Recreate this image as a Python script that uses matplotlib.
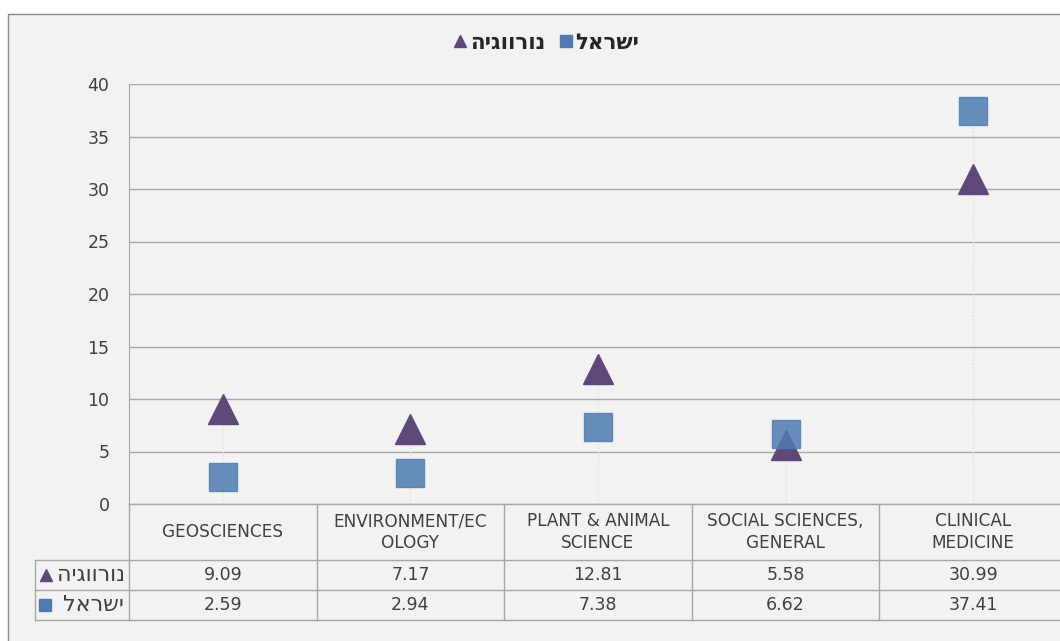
"""
Norway vs Israel by research field, Excel-style marker chart with a data table.
"""
import matplotlib
matplotlib.use("Agg")
import matplotlib.pyplot as plt
from matplotlib.lines import Line2D
from matplotlib.patches import Rectangle
from matplotlib.transforms import blended_transform_factory

# --- DATA --- #
categories = ["GEOSCIENCES", "ENVIRONMENT/EC\nOLOGY", "PLANT & ANIMAL\nSCIENCE",
              "SOCIAL SCIENCES,\nGENERAL", "CLINICAL\nMEDICINE"]
norway = [9.09, 7.17, 12.81, 5.58, 30.99]
israel = [2.59, 2.94, 7.38, 6.62, 37.41]
norway_label = "נורווגיה"
israel_label = "ישראל"
y_ticks = list(range(0, 41, 5))


def rtl(s):
    # matplotlib has no bidi support, so flip Hebrew by hand
    return s[::-1]


plt.rcParams["font.family"] = ["DejaVu Sans"]
HEB = ["DejaVu Sans"]
TXT = "#404040"
GRID = "#a6a6a6"
PURPLE = "#5F497A"
BLUE = "#4F7BB0"
FS = 12.5
HEB_FS = 16

# --- FIGURE AND FRAME --- #
fig = plt.figure(figsize=(10.6, 6.41), dpi=100, facecolor="white")
fig.patches.append(Rectangle((8 / 1060, -0.1), 2, 1 - 14 / 641 + 0.1,
                             transform=fig.transFigure, fc="#F2F2F2",
                             ec="#8c8c8c", lw=1, zorder=-10))

ax = fig.add_axes([129 / 1060, 1 - 504 / 641, 938 / 1060, 420 / 641])
ax.set_facecolor("none")
x = list(range(len(categories)))

# --- FAINT DROP LINES --- #
for xi, a, b in zip(x, norway, israel):
    ax.vlines(xi, 0, max(a, b), colors="#e0e0e0", linestyles=":", lw=1, zorder=1)

# --- MARKERS --- #
ax.plot(x, norway, ls="none", marker="^", ms=22, mfc=PURPLE, mec=PURPLE, zorder=3)
ax.plot(x, israel, ls="none", marker="s", ms=20, mfc=BLUE, mec=BLUE,
        alpha=0.85, zorder=4)

ax.set_xlim(-0.5, len(categories) - 0.5)
ax.set_ylim(0, 40)
ax.set_yticks(y_ticks)
ax.set_xticks([])
ax.tick_params(axis="y", length=0, pad=14, labelsize=FS, labelcolor=TXT)
ax.grid(axis="y", color=GRID, lw=1)
ax.set_axisbelow(True)
for side in ["top", "right", "bottom"]:
    ax.spines[side].set_visible(False)
ax.spines["left"].set_color(GRID)

# --- DATA TABLE UNDER THE AXIS --- #
tr = blended_transform_factory(ax.transData, ax.transAxes)
ph = 420.0  # axes height in px
y_head = -56 / ph
y_r1 = -86 / ph
y_r2 = -116 / ph
x_left = -1.0
x_right = len(categories) - 0.5
line_kw = dict(color=GRID, lw=1, transform=tr, clip_on=False)

ax.plot([-0.5, x_right], [0, 0], **line_kw)
for yy in [y_head, y_r1, y_r2]:
    ax.plot([x_left, x_right], [yy, yy], **line_kw)
ax.plot([x_left, x_left], [y_head, y_r2], **line_kw)
for xb in [i - 0.5 for i in range(len(categories) + 1)]:
    ax.plot([xb, xb], [0, y_r2], **line_kw)

for xi, cat, a, b in zip(x, categories, norway, israel):
    ax.text(xi, y_head / 2, cat, ha="center", va="center", fontsize=FS - 0.3,
            color=TXT, transform=tr, linespacing=1.25)
    ax.text(xi, (y_head + y_r1) / 2, f"{a:.2f}", ha="center", va="center",
            fontsize=FS, color=TXT, transform=tr)
    ax.text(xi, (y_r1 + y_r2) / 2, f"{b:.2f}", ha="center", va="center",
            fontsize=FS, color=TXT, transform=tr)


def px_to_x(px):
    return (px - 129) / 187.6 - 0.5


ax.plot([px_to_x(46)], [(y_head + y_r1) / 2], marker="^", ms=9, color=PURPLE,
        transform=tr, clip_on=False)
ax.plot([px_to_x(45)], [(y_r1 + y_r2) / 2], marker="s", ms=8, color=BLUE,
        transform=tr, clip_on=False)
ax.text(px_to_x(125), (y_head + y_r1) / 2, rtl(norway_label), ha="right",
        va="center", fontsize=HEB_FS, color=TXT, transform=tr, family=HEB)
ax.text(px_to_x(124), (y_r1 + y_r2) / 2, rtl(israel_label), ha="right",
        va="center", fontsize=HEB_FS, color=TXT, transform=tr, family=HEB)

# --- LEGEND --- #
handles = [Line2D([], [], ls="none", marker="^", ms=9, color=PURPLE),
           Line2D([], [], ls="none", marker="s", ms=8, color=BLUE)]
fig.legend(handles, [rtl(norway_label), rtl(israel_label)], ncol=2,
           loc="center", bbox_to_anchor=(545 / 1060, 1 - 43 / 641),
           frameon=False, handletextpad=0.0, columnspacing=0.5,
           handlelength=0.9,
           prop=dict(size=15.5, weight="bold", family=HEB),
           labelcolor="#262626")

fig.savefig("out.png", dpi=100, facecolor=fig.get_facecolor())
